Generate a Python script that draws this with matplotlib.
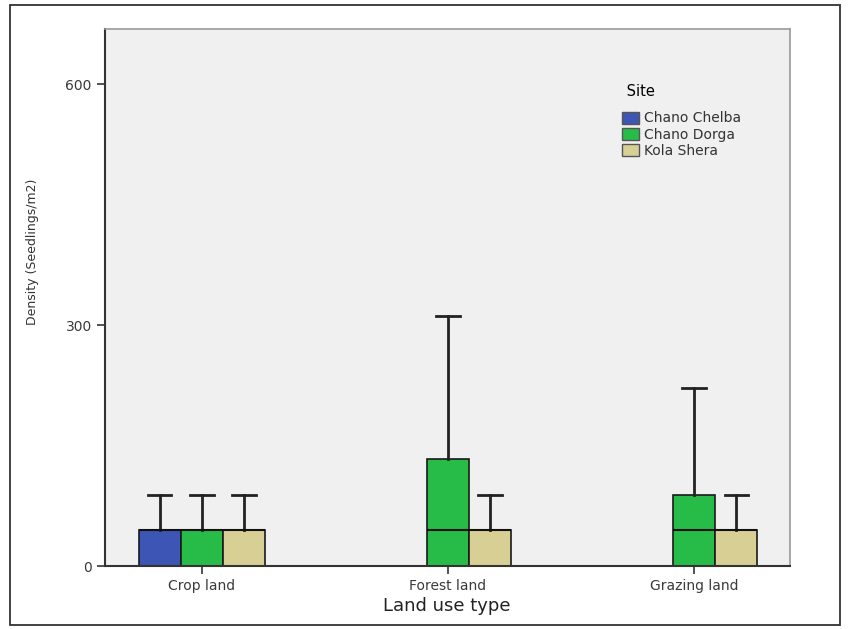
import matplotlib.pyplot as plt
from matplotlib.patches import Patch, Rectangle

# Données
land_use = ["Crop land", "Forest land", "Grazing land"]
sites = ["Chano Chelba", "Chano Dorga", "Kola Shera"]
site_colors = ["#3d55b4", "#27bb48", "#d8cf95"]

# une ligne par boîte : (land use index, site index, q1, median, q3, whisker high)
box_landuse = [0, 0, 0, 1, 1, 2, 2]
box_site = [0, 1, 2, 1, 2, 1, 2]
box_q1 = [0, 0, 0, 0, 0, 0, 0]
box_med = [44.4, 44.4, 44.4, 44.4, 44.4, 44.4, 44.4]
box_q3 = [44.4, 44.4, 44.4, 133.3, 44.4, 88.9, 44.4]
box_whishi = [88.9, 88.9, 88.9, 311.1, 88.9, 222.2, 88.9]

y_ticks = [0, 300, 600]

plt.rcParams['font.family'] = ['DejaVu Sans']

fig = plt.figure(figsize=(8.48, 6.29), dpi=100)
ax = fig.add_axes([105 / 848, 1 - 566 / 629, (790 - 105) / 848, (566 - 29) / 629])
ax.set_facecolor("#f0f0f0")

width = 0.171
offsets = [-width, 0, width]

for i in range(len(box_q1)):
    pos = box_landuse[i] + offsets[box_site[i]]
    stats = [{"q1": box_q1[i], "med": box_med[i], "q3": box_q3[i],
              "whislo": box_q1[i], "whishi": box_whishi[i], "fliers": []}]
    ax.bxp(stats, positions=[pos], widths=width, patch_artist=True,
           showfliers=False, manage_ticks=False,
           boxprops=dict(facecolor=site_colors[box_site[i]], edgecolor="#1a1a1a", linewidth=1.2),
           medianprops=dict(color="#111111", linewidth=1.5),
           whiskerprops=dict(color="#222222", linewidth=2),
           capprops=dict(color="#222222", linewidth=2),
           capwidths=width * 0.55)

ax.set_xlim(-0.394, 2.39)
ax.set_ylim(0, 669)
ax.set_xticks(range(len(land_use)))
ax.set_xticklabels(land_use)
ax.set_yticks(y_ticks)
ax.tick_params(axis="both", direction="out", length=6, width=1.2, color="#333333",
               labelsize=10, labelcolor="#3a3a3a")

for side in ["left", "bottom"]:
    ax.spines[side].set_color("#333333")
    ax.spines[side].set_linewidth(1.5)
for side in ["top", "right"]:
    ax.spines[side].set_color("#9a9a9a")
    ax.spines[side].set_linewidth(1.2)

fig.text(447 / 848, 1 - 606 / 629, "Land use type", ha="center", va="center",
         fontsize=13, color="#222222")
fig.text(33 / 848, 1 - 252 / 629, "Density (Seedlings/m2)", ha="center", va="center",
         rotation=90, fontsize=9, color="#333333")

handles = [Patch(facecolor=c, edgecolor="#555555") for c in site_colors]
leg = ax.legend(handles, sites, title=" Site", loc="upper left",
                bbox_to_anchor=(622 / 848, 1 - 84 / 629), bbox_transform=fig.transFigure,
                frameon=False, fontsize=10, title_fontsize=10.5,
                handlelength=1.25, handleheight=1.0, handletextpad=0.3,
                labelspacing=0.15, borderpad=0.0, borderaxespad=0.0)
leg._legend_box.align = "left"
leg._legend_box.sep = 9
for t in leg.get_texts():
    t.set_color("#333333")

# cadre extérieur
fig.patches.append(Rectangle((10 / 848, 1 - 625 / 629), 830 / 848, 620 / 629,
                             transform=fig.transFigure, fill=False,
                             edgecolor="#333333", linewidth=1.3))

fig.savefig("out.png", dpi=100)
